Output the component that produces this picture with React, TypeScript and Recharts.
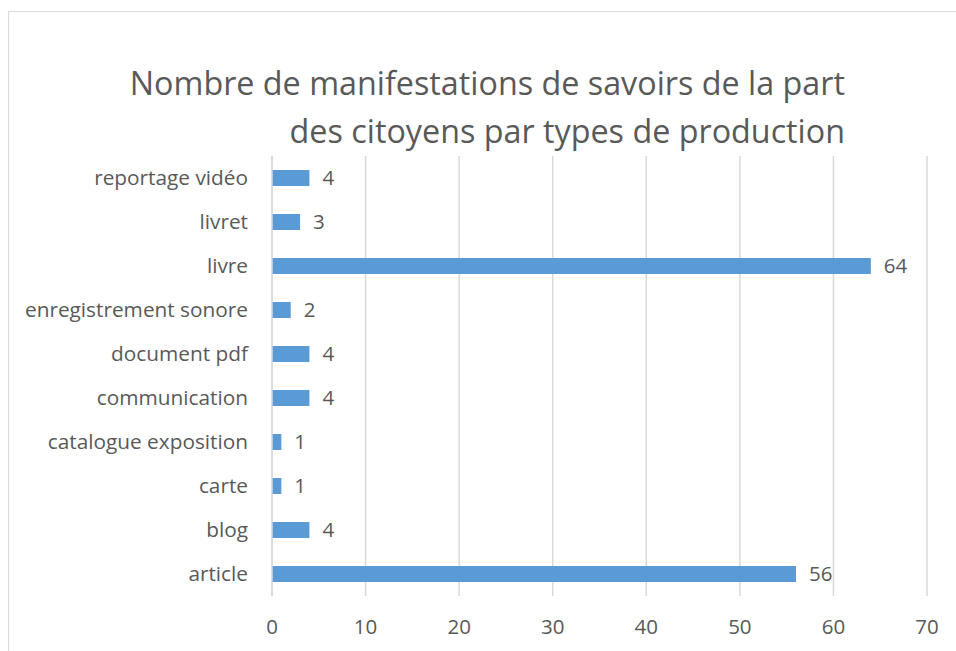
import React from 'react';
import { BarChart, Bar, XAxis, YAxis, CartesianGrid, LabelList } from 'recharts';

const categories = [
  'reportage vidéo',
  'livret',
  'livre',
  'enregistrement sonore',
  'document pdf',
  'communication',
  'catalogue exposition',
  'carte',
  'blog',
  'article',
];
const counts = [4, 3, 64, 2, 4, 4, 1, 1, 4, 56];
const xTicks = [0, 10, 20, 30, 40, 50, 60, 70];

const data = categories.map((name, i) => ({ name, value: counts[i] }));

const font = '"Open Sans", sans-serif';
const textColor = '#595959';

export default function App() {
  return (
    <div style={{ position: 'absolute', left: 0, top: 0, width: 956, height: 651, overflow: 'hidden', background: '#fff', fontFamily: font }}>
      {/* cadre du graphique */}
      <div style={{ position: 'absolute', left: 8, top: 11, width: 1000, height: 700, border: '1px solid #d9d9d9', boxSizing: 'border-box' }} />

      {/* titre */}
      <div style={{ position: 'absolute', right: 956 - 845, top: 58, textAlign: 'right', color: textColor, fontSize: 32.3, lineHeight: '48px', whiteSpace: 'nowrap' }}>
        <div>Nombre de manifestations de savoirs de la part</div>
        <div>des citoyens par types de production</div>
      </div>

      <div style={{ position: 'absolute', left: 0, top: 0 }}>
        <BarChart
          layout="vertical"
          width={956}
          height={651}
          data={data}
          margin={{ top: 156, right: 29, bottom: 25, left: 0 }}
          barCategoryGap="32%"
        >
          <CartesianGrid horizontal={false} stroke="#d9d9d9" strokeWidth={1.5} />
          <XAxis
            type="number"
            domain={[0, 70]}
            ticks={xTicks}
            axisLine={false}
            tickLine={false}
            tickMargin={17}
            tick={{ fill: textColor, fontSize: 20.5, fontFamily: font }}
          />
          <YAxis
            type="category"
            dataKey="name"
            width={272}
            axisLine={{ stroke: '#d9d9d9', strokeWidth: 1.5 }}
            tickLine={false}
            tickMargin={18}
            tick={{ fill: textColor, fontSize: 20.8, fontFamily: font }}
            interval={0}
          />
          <Bar dataKey="value" fill="#5b9bd5" barSize={16} isAnimationActive={false}>
            <LabelList dataKey="value" position="right" offset={13} fill={textColor} fontSize={20.5} fontFamily={font} />
          </Bar>
        </BarChart>
      </div>
    </div>
  );
}
